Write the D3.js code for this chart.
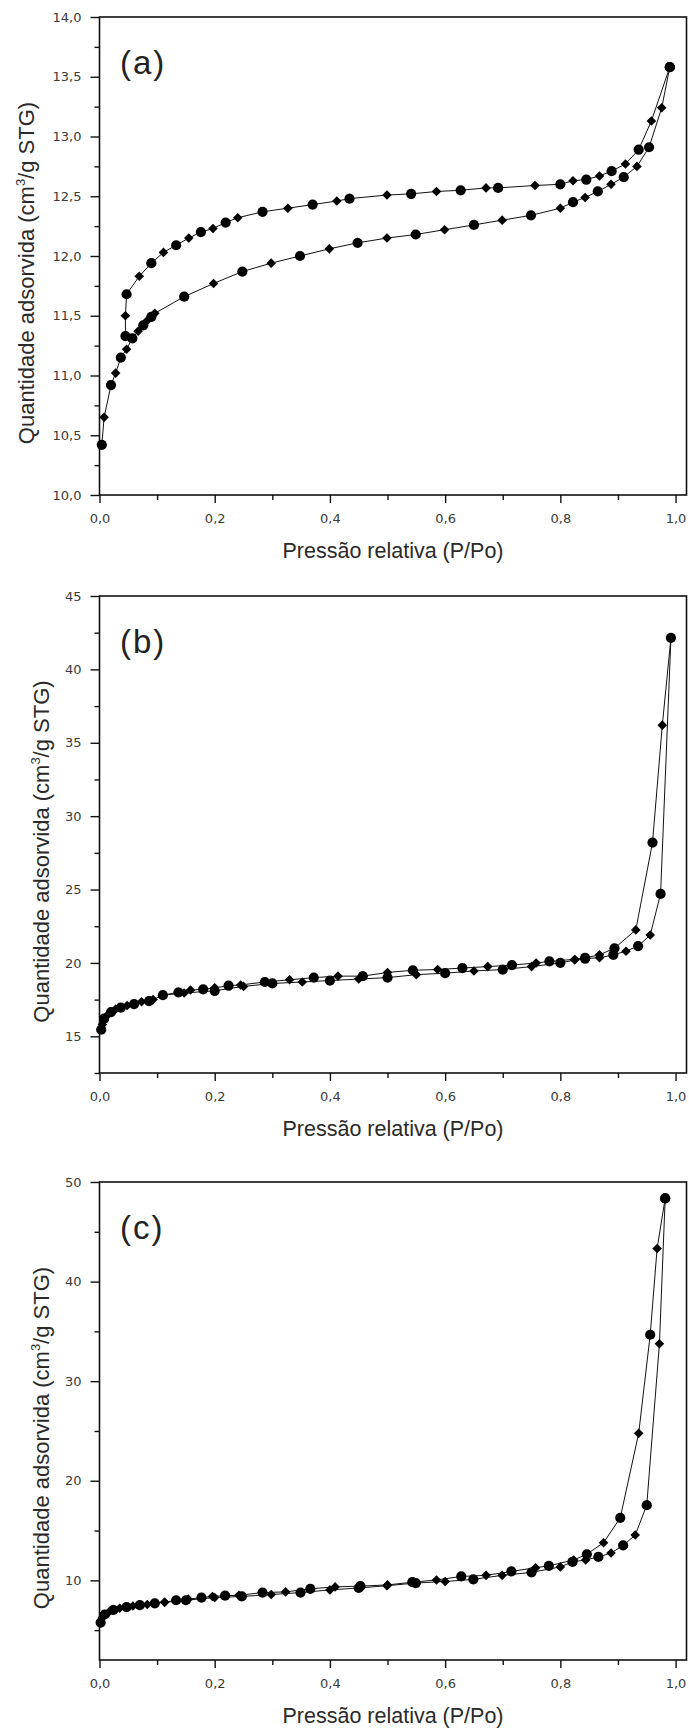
<!DOCTYPE html>
<html>
<head>
<meta charset="utf-8">
<script src="https://cdn.jsdelivr.net/npm/d3@7"></script>
<style>
body{margin:0;background:#fff;}
</style>
</head>
<body>
<div id="graphHolder"></div>
<script>
// (a) adsorption / desorption, P/Po vs quantity
var aAdsX = [0.004,0.008,0.02,0.028,0.037,0.047,0.057,0.067,0.076,0.083,0.09,0.096,0.147,0.198,0.248,0.298,0.348,0.399,0.448,0.499,0.549,0.599,0.65,0.699,0.749,0.80,0.822,0.843,0.865,0.888,0.91,0.933,0.954,0.976,0.99];
var aAdsY = [10.42,10.65,10.92,11.02,11.15,11.22,11.31,11.37,11.42,11.46,11.49,11.52,11.66,11.77,11.87,11.94,12.0,12.06,12.11,12.15,12.18,12.22,12.26,12.30,12.34,12.40,12.45,12.49,12.54,12.60,12.66,12.75,12.91,13.24,13.58];
var aDesX = [0.99,0.958,0.936,0.913,0.889,0.868,0.845,0.822,0.80,0.756,0.692,0.671,0.627,0.585,0.541,0.499,0.434,0.412,0.37,0.327,0.283,0.24,0.219,0.197,0.176,0.155,0.133,0.111,0.09,0.069,0.047,0.045,0.045];
var aDesY = [13.58,13.13,12.89,12.77,12.71,12.67,12.64,12.63,12.60,12.59,12.57,12.57,12.55,12.54,12.52,12.51,12.48,12.46,12.43,12.40,12.37,12.32,12.28,12.23,12.20,12.15,12.09,12.03,11.94,11.83,11.68,11.50,11.33];

// (b)
var bAdsX = [0.003,0.005,0.008,0.014,0.02,0.028,0.037,0.048,0.06,0.073,0.086,0.093,0.11,0.147,0.2,0.25,0.3,0.352,0.40,0.45,0.5,0.55,0.6,0.65,0.7,0.75,0.8,0.825,0.843,0.868,0.892,0.914,0.935,0.956,0.974,0.992];
var bAdsY = [15.45,15.8,16.2,16.45,16.65,16.85,16.95,17.1,17.2,17.35,17.4,17.5,17.8,17.95,18.1,18.4,18.6,18.7,18.8,18.9,19.0,19.2,19.3,19.45,19.55,19.75,20.0,20.2,20.3,20.35,20.55,20.8,21.15,21.9,24.7,42.15];
var bDesX = [0.992,0.977,0.96,0.931,0.894,0.868,0.843,0.825,0.781,0.758,0.716,0.674,0.63,0.587,0.544,0.5,0.457,0.414,0.372,0.33,0.287,0.245,0.224,0.2,0.18,0.158,0.137,0.11];
var bDesY = [42.15,36.2,28.2,22.25,21.0,20.55,20.35,20.25,20.1,20.0,19.85,19.75,19.65,19.55,19.5,19.35,19.1,19.1,19.0,18.85,18.7,18.5,18.45,18.3,18.2,18.15,18.0,17.8];

// (c)
var cAdsX = [0.002,0.005,0.009,0.016,0.024,0.035,0.047,0.058,0.07,0.083,0.096,0.113,0.15,0.2,0.247,0.298,0.349,0.4,0.45,0.499,0.549,0.6,0.649,0.699,0.75,0.8,0.821,0.844,0.866,0.888,0.909,0.93,0.95,0.972,0.982];
var cAdsY = [5.76,6.26,6.57,6.8,7.03,7.19,7.3,7.42,7.5,7.57,7.69,7.8,8.0,8.27,8.38,8.57,8.77,9.04,9.23,9.46,9.73,9.88,10.1,10.5,10.8,11.35,11.85,12.05,12.35,12.74,13.5,14.55,17.55,33.75,48.35];
var cDesX = [0.982,0.968,0.956,0.936,0.904,0.875,0.846,0.823,0.78,0.757,0.715,0.671,0.628,0.585,0.543,0.5,0.453,0.409,0.366,0.323,0.283,0.242,0.218,0.196,0.177,0.154,0.133,0.113];
var cDesY = [48.35,43.33,34.66,24.76,16.28,13.78,12.62,12.04,11.46,11.27,10.89,10.5,10.39,10.04,9.81,9.54,9.42,9.34,9.15,8.84,8.77,8.5,8.46,8.38,8.27,8.11,8.0,7.8];

var xTicks = [0,0.2,0.4,0.6,0.8,1.0];
var xTickLabels = ["0,0","0,2","0,4","0,6","0,8","1,0"];
var xMinor = [0.1,0.3,0.5,0.7,0.9];

var aYTicks = [10,10.5,11,11.5,12,12.5,13,13.5,14];
var aYTickLabels = ["10,0","10,5","11,0","11,5","12,0","12,5","13,0","13,5","14,0"];
var aYMinor = [10.25,10.75,11.25,11.75,12.25,12.75,13.25,13.75];

var bYTicks = [15,20,25,30,35,40,45];
var bYTickLabels = ["15","20","25","30","35","40","45"];
var bYMinor = [12.5,17.5,22.5,27.5,32.5,37.5,42.5];

var cYTicks = [10,20,30,40,50];
var cYTickLabels = ["10","20","30","40","50"];
var cYMinor = [5,15,25,35,45];

var W = 689, H = 1731;
var left = 99.5, right = 686.5;

var svg = d3.select("#graphHolder")
	.append("svg")
	.attr("width",W)
	.attr("height",H)
	.style("display","block")
	.style("font-family","Arial, 'Liberation Sans', sans-serif");

function drawPanel(p){
	var x = d3.scaleLinear().domain([0,1.019]).range([left,right]);
	var y = d3.scaleLinear().domain(p.yDomain).range([p.bottom,p.top]);
	var g = svg.append("g");

	// minor ticks first
	g.append("g")
		.attr("transform","translate(0,"+p.bottom+")")
		.call(d3.axisBottom(x).tickValues(xMinor).tickFormat("").tickSizeInner(5).tickSizeOuter(0));
	g.append("g")
		.attr("transform","translate("+left+",0)")
		.call(d3.axisLeft(y).tickValues(p.yMinor).tickFormat("").tickSizeInner(5).tickSizeOuter(0));

	var xAxis = g.append("g")
		.attr("transform","translate(0,"+p.bottom+")")
		.call(d3.axisBottom(x).tickValues(xTicks)
			.tickFormat(function(d,i){return xTickLabels[i];})
			.tickSizeInner(8).tickSizeOuter(0).tickPadding(11));
	var yAxis = g.append("g")
		.attr("transform","translate("+left+",0)")
		.call(d3.axisLeft(y).tickValues(p.yTicks)
			.tickFormat(function(d,i){return p.yTickLabels[i];})
			.tickSizeInner(9).tickSizeOuter(0).tickPadding(9));

	g.selectAll(".domain").remove();
	g.selectAll(".tick line").attr("stroke","#111").attr("stroke-width",1.4);
	g.selectAll(".tick text")
		.style("font-family","'DejaVu Sans', Verdana, sans-serif")
		.style("font-size","13px")
		.attr("fill","#3a3a3a");

	// frame
	g.append("rect")
		.attr("x",left)
		.attr("y",p.top)
		.attr("width",right-left)
		.attr("height",p.bottom-p.top)
		.attr("fill","none")
		.attr("stroke","#111")
		.attr("stroke-width",1.6);

	var line = d3.line()
		.x(function(d){return x(d[0]);})
		.y(function(d){return y(d[1]);});

	var series = [d3.zip(p.adsX,p.adsY), d3.zip(p.desX,p.desY)];
	series.forEach(function(s){
		g.append("path")
			.datum(s)
			.attr("d",line)
			.attr("fill","none")
			.attr("stroke","#111")
			.attr("stroke-width",1);
		g.selectAll(null)
			.data(s)
			.enter()
			.append("path")
			.attr("transform",function(d,i){
				var t = "translate("+x(d[0])+","+y(d[1])+")";
				if (i%2==1) t += " rotate(45)";
				return t;
			})
			.attr("d",function(d,i){
				if (i%2==1) return d3.symbol().type(d3.symbolSquare).size(46)();
				return d3.symbol().type(d3.symbolCircle).size(82)();
			})
			.attr("fill","#000");
	});

	// panel letter
	g.append("text")
		.attr("x",120)
		.attr("y",p.top+57)
		.text(p.letter)
		.attr("fill","#222")
		.style("font-size","33px")
		.style("letter-spacing","2px");

	// axis titles
	g.append("text")
		.attr("x",(left+right)/2)
		.attr("y",p.bottom+63)
		.attr("text-anchor","middle")
		.attr("fill","#2a2a2a")
		.style("font-size","21.5px")
		.text("Pressão relativa (P/Po)");

	var yt = g.append("text")
		.attr("transform","translate("+p.titleX+","+((p.top+p.bottom)/2+17)+") rotate(-90)")
		.attr("text-anchor","middle")
		.attr("fill","#2a2a2a")
		.style("font-size","22px");
	yt.append("tspan").text("Quantidade adsorvida (cm");
	yt.append("tspan").text("3").style("font-size","13px").attr("dy",-9);
	yt.append("tspan").text("/g STG)").attr("dy",9);
}

drawPanel({letter:"(a)",top:17,bottom:495,yDomain:[10,14],yTicks:aYTicks,yTickLabels:aYTickLabels,yMinor:aYMinor,
	adsX:aAdsX,adsY:aAdsY,desX:aDesX,desY:aDesY,titleX:34});
drawPanel({letter:"(b)",top:596,bottom:1073,yDomain:[12.5,45],yTicks:bYTicks,yTickLabels:bYTickLabels,yMinor:bYMinor,
	adsX:bAdsX,adsY:bAdsY,desX:bDesX,desY:bDesY,titleX:49});
drawPanel({letter:"(c)",top:1182,bottom:1660,yDomain:[2,50],yTicks:cYTicks,yTickLabels:cYTickLabels,yMinor:cYMinor,
	adsX:cAdsX,adsY:cAdsY,desX:cDesX,desY:cDesY,titleX:49});
</script>
</body>
</html>
